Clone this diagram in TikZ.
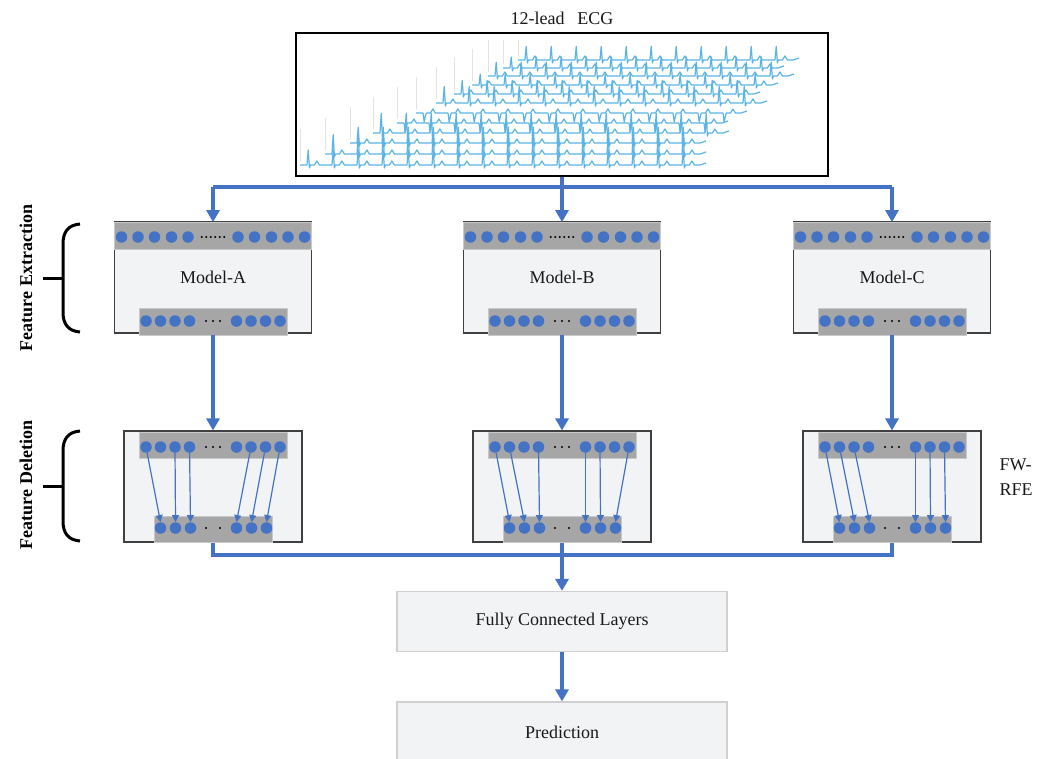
\documentclass[tikz,border=0pt]{standalone}
\usepackage{fontspec}
\setmainfont{Liberation Serif}
\usetikzlibrary{arrows.meta,calc}
\definecolor{linkblue}{HTML}{4472C4}
\definecolor{ecgblue}{HTML}{5AB4E5}
\definecolor{panel}{HTML}{F2F3F5}
\definecolor{barfill}{HTML}{A6A6A6}
\definecolor{baredge}{HTML}{C9C9C9}
\definecolor{frame}{HTML}{404040}
\definecolor{lightframe}{HTML}{D0D0D0}

\tikzset{
  txt/.style={font=\fontsize{18}{25}\selectfont, text=black!90},
  panelbox/.style={draw=frame, fill=panel, line width=1.1pt, inner sep=0},
  layerbar/.style={fill=barfill, draw=baredge, line width=0.8pt, inner sep=0},
  neuron/.style={circle, fill=linkblue, inner sep=0, minimum size=11.5},
  ellip/.style={circle, fill=black, inner sep=0, minimum size=2.2},
  conn/.style={draw=linkblue, line width=3.2pt},
  headed/.style={-{Triangle[width=13pt,length=12pt]}},
  selarrow/.style={draw=linkblue, line width=1.2pt, -{Triangle[width=7pt,length=7pt]}},
  bracket/.style={draw=black, line width=3pt},
  stagelabel/.style={font=\bfseries\fontsize{18}{21}\selectfont, rotate=90},
  flowbox/.style={draw=lightframe, fill=panel, line width=1.2pt, inner sep=0,
                  minimum width=330, minimum height=60},
  ecgtrace/.style={draw=ecgblue, line width=1.2pt, line join=round},
}

\begin{document}
\begin{tikzpicture}[x=1pt,y=-1pt]
\clip (0,0) rectangle (1044,758);
\fill[white] (0,0) rectangle (1044,758);

% ---------- input: 12-lead ECG ----------
\node[txt] (title) at (562,18) {12-lead\hspace{0.7em}ECG};
\node[draw=black, line width=1.5pt, minimum width=532, minimum height=143, inner sep=0] (ecg) at (562,104.5) {};
\foreach \xs/\yb [count=\i from 0] in {300/165,325/154,350/143,373/133,397/123,416/113,436/103,454/94,472/85,488/76,503/68,518/60}{
  \pgfmathtruncatemacro\N{round((690+10*\i-\xs)/25)}
  \pgfmathsetmacro\H{(\i==4 || \i==5) ? -9 : (15+mod(\i*5,8))*(1-0.035*\i)}
  \pgfmathsetmacro\G{min(36,\yb-40)}
  \draw[gray!22, line width=0.6pt] (\xs,\yb-4) -- (\xs,\yb-\G);
  \draw[ecgtrace] (\xs,\yb) foreach \k in {1,...,\N}{
      -- ++(7,0) -- ++(1.2,-\H) -- ++(1.2,\H+3) -- ++(1,-3) -- ++(4,0)
      -- ++(2.5,-4) -- ++(2.5,4) -- ++(5.6,0)} -- ++(6,-2);
}

% ---------- three branches ----------
\foreach \m/\c in {A/213,B/562,C/892}{
  % feature extractor
  \node[panelbox, txt, minimum width=197, minimum height=111] (m\m) at (\c,277.5) {Model-\m};
  \node[layerbar, minimum width=197, minimum height=27] (mt\m) at (\c,236) {};
  \foreach \o [count=\k] in {-91.5,-75,-58.5,-41.5,-25,25,41.5,58.5,75,91.5}
    \node[neuron] (mt\m\k) at (\c+\o,237) {};
  \foreach \o in {-11.25,-6.75,...,11.25}
    \node[ellip] at (\c+\o,237) {};
  \node[layerbar, minimum width=148, minimum height=27] (mb\m) at (\c,321.5) {};
  \foreach \o [count=\k] in {-67,-52.5,-38,-23.5,23.5,38,52.5,67}
    \node[neuron] (mb\m\k) at (\c+\o,321) {};
  \foreach \o in {-7,0,7}
    \node[ellip] at (\c+\o,321) {};

  % feature deletion
  \node[panelbox, minimum width=178, minimum height=111] (d\m) at (\c,486.5) {};
  \node[layerbar, minimum width=148, minimum height=26] (dtbar\m) at (\c,445) {};
  \foreach \o [count=\k] in {-67,-52.5,-38,-23.5,23.5,38,52.5,67}
    \node[neuron] (dt\m\k) at (\c+\o,447) {};
  \foreach \o in {-7,0,7}
    \node[ellip] at (\c+\o,447) {};
  \node[layerbar, minimum width=118, minimum height=26] (dbbar\m) at (\c,529) {};
  \foreach \o [count=\k] in {-52.5,-37.5,-22.5,23.5,38.5,53.5}
    \node[neuron] (db\m\k) at (\c+\o,528) {};
  \foreach \o in {-7,7}
    \node[ellip] at (\c+\o,528) {};

  \draw[conn,headed] (mb\m.south) -- (d\m.north);
}

% kept features
\foreach \t/\b in {1/1,3/2,4/3,6/4,7/5,8/6}
  \draw[selarrow] (dtA\t) -- (dbA\b.north);
\foreach \t/\b in {1/1,2/2,4/3,5/4,6/5,8/6}
  \draw[selarrow] (dtB\t) -- (dbB\b.north);
\foreach \t/\b in {1/1,2/2,3/3,5/4,6/5,7/6}
  \draw[selarrow] (dtC\t) -- (dbC\b.north);

% fan-out from the ECG
\coordinate (split) at (562,187);
\draw[conn,headed] (ecg.south) -- (mtB.north);
\draw[conn] (mtA.north |- split) -- (mtC.north |- split);
\draw[conn,headed] (mtA.north |- split) -- (mtA.north);
\draw[conn,headed] (mtC.north |- split) -- (mtC.north);

\node[txt, align=left, anchor=west] (fw) at (996,477) {FW-\\RFE};

% ---------- fusion and output ----------
\node[flowbox, txt] (fc) at (562,621.5) {Fully Connected Layers};
\node[flowbox, txt] (pred) at (562,732) {Prediction};
\coordinate (merge) at (562,555);
\draw[conn] (dA.south) |- (merge) -| (dC.south);
\draw[conn,headed] (dB.south) -- (fc.north);
\draw[conn,headed] (fc.south) -- (pred.north);

% ---------- stage brackets ----------
\draw[bracket] (80,224) .. controls (68,225) and (63,232) .. (63,244) -- (63,312)
               .. controls (63,324) and (68,331) .. (80,332);
\draw[bracket] (43,278) -- (63,278);
\node[stagelabel] (fe) at (26,278) {Feature Extraction};

\draw[bracket] (80,431) .. controls (68,432) and (63,439) .. (63,451) -- (63,521)
               .. controls (63,533) and (68,540) .. (80,541);
\draw[bracket] (43,486) -- (63,486);
\node[stagelabel] (fd) at (26,485) {Feature Deletion};
\end{tikzpicture}
\end{document}
